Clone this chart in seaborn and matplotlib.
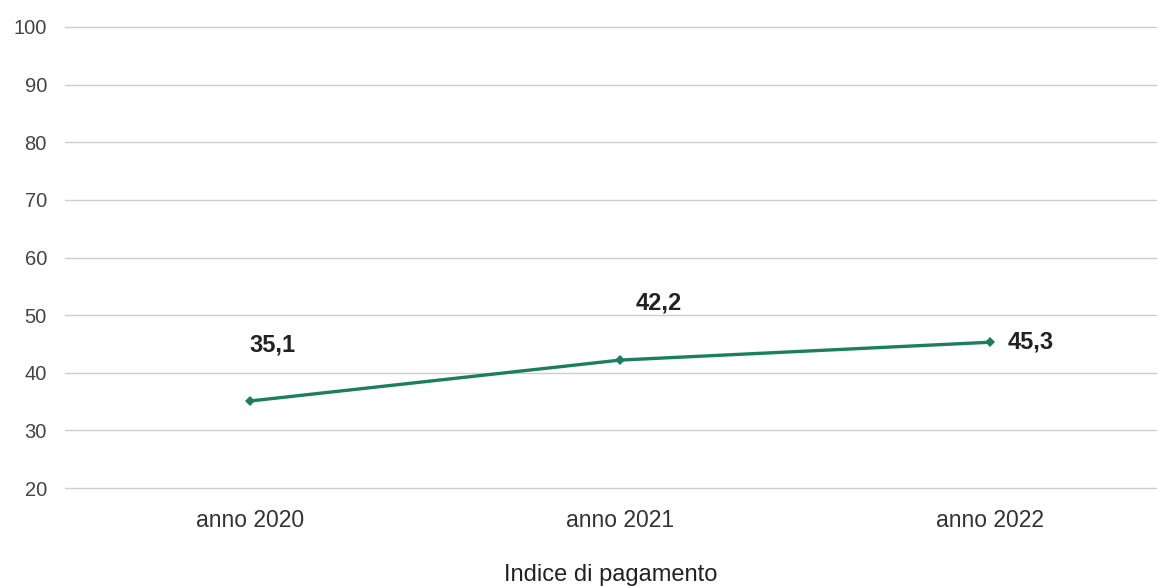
# Indice di pagamento - grafico a linea
import pandas as pd
import matplotlib.pyplot as plt
import seaborn as sns

anni = ['anno 2020', 'anno 2021', 'anno 2022']
valori = [35.1, 42.2, 45.3]
etichette = ['35,1', '42,2', '45,3']
y_ticks = [20, 30, 40, 50, 60, 70, 80, 90, 100]

data = pd.DataFrame({'Anno': anni, 'Valore': valori})

sns.set_style('white')
plt.rcParams['font.family'] = ['Liberation Sans', 'DejaVu Sans']

fig = plt.figure(figsize=(11.57, 5.86), dpi=100)
ax = fig.add_axes([65 / 1157, 1 - 488 / 586, 1 - 65 / 1157, (488 - 27) / 586])

sns.lineplot(x='Anno', y='Valore', data=data, ax=ax, color='#1b7f5f',
             linewidth=2.4, marker='D', markersize=5.5, markeredgewidth=0)

# griglia orizzontale
for t in y_ticks:
    ax.axhline(t, color='#cccccc', linewidth=1, zorder=0, clip_on=False)

ax.set_ylim(20, 100)
ax.set_xlim(-0.5, 2.45)
ax.set_yticks(y_ticks)
ax.set_yticklabels([str(t) for t in y_ticks], color='#444444', fontsize=14.5)
ax.tick_params(axis='x', labelsize=16.5, colors='#333333', pad=15, length=0)
ax.tick_params(axis='y', length=0, pad=13)
for s in ax.spines.values():
    s.set_visible(False)

ax.set_xlabel('Indice di pagamento', fontsize=17, color='#222222', labelpad=23)
ax.set_ylabel('')

# etichette dei valori
offset = [(22, 56), (38, 57), (40, 0)]
for i, (v, lab) in enumerate(zip(valori, etichette)):
    ax.annotate(lab, (i, v), xytext=offset[i], textcoords='offset pixels',
                ha='center', va='center', fontsize=17, fontweight='bold',
                color='#222222')

plt.savefig('out.png', dpi=100)
